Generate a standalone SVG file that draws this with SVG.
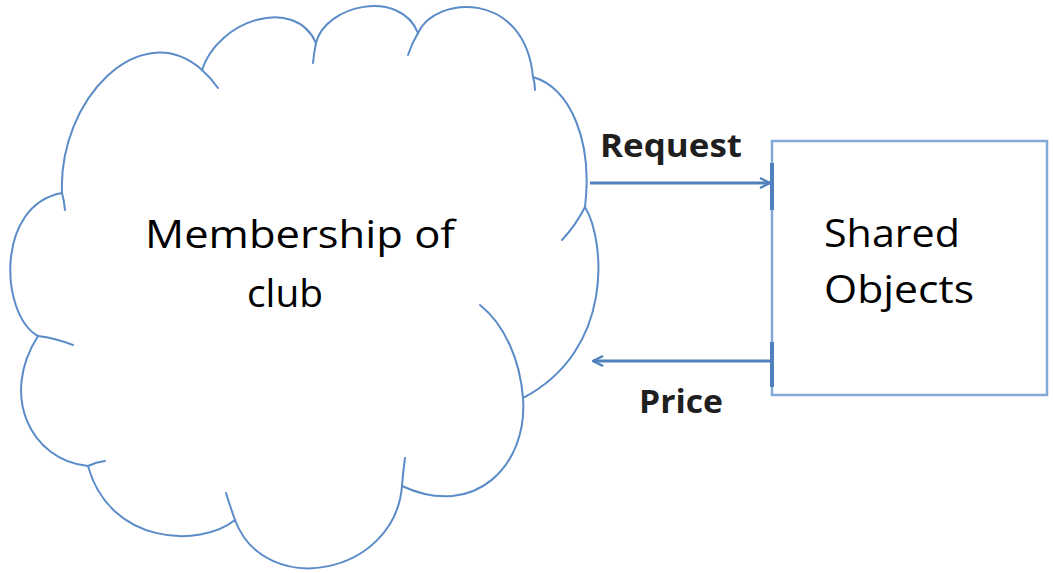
<svg xmlns="http://www.w3.org/2000/svg" width="1053" height="573" viewBox="0 0 1053 573">
  <style>
    .cloud { fill: none; stroke: #5b8cc8; stroke-width: 2; stroke-linecap: round; }
    .box { fill: #ffffff; stroke: #82a9d8; stroke-width: 2.5; }
    .conn { fill: none; stroke: #4f81bd; stroke-width: 3; }
    .tick { stroke: #4f81bd; stroke-width: 4; }
    .big { font-family: "Open Sans", "Liberation Sans", sans-serif; font-size: 39px; fill: #000000; }
    .lbl { font-family: "Open Sans", "Liberation Sans", sans-serif; font-size: 33px; font-weight: bold; fill: #1f1f1f; }
  </style>
  <defs>
    <marker id="arrow" viewBox="0 0 12 12" refX="11" refY="6" markerWidth="4" markerHeight="4" orient="auto" markerUnits="strokeWidth">
      <path d="M1,1 L11,6 L1,11" fill="none" stroke="#4f81bd" stroke-width="2.4" stroke-linejoin="miter"/>
    </marker>
  </defs>
  <rect width="1053" height="573" fill="#ffffff"/>

  <g id="cloud">
    <path class="cloud" d="M62,193 C58,100 140,15 202,70 C218,20 295,-5 316,43 C325,5 400,-12 418,33 C435,-5 525,-10 533,77 C570,88 593,140 585,207 C605,240 615,350 523,398 C528,465 475,520 402,486 C395,575 265,600 235,520 C200,548 110,545 88,466 C30,460 0,395 38,336 C0,315 -5,205 62,193 Z"/>
    <path class="cloud" d="M62,193 Q64,200 65,210"/>
    <path class="cloud" d="M202,70 Q211,78 218,88"/>
    <path class="cloud" d="M316,43 Q314,52 313,63"/>
    <path class="cloud" d="M418,33 Q412,43 408,55"/>
    <path class="cloud" d="M533,77 Q535,83 535,90"/>
    <path class="cloud" d="M585,207 Q576,225 562,240"/>
    <path class="cloud" d="M480,305 C505,325 520,360 523,398"/>
    <path class="cloud" d="M402,486 Q403,472 405,458"/>
    <path class="cloud" d="M235,520 Q230,506 226,493"/>
    <path class="cloud" d="M88,466 Q96,462 105,461"/>
    <path class="cloud" d="M38,336 Q55,338 73,345"/>
    <text class="big" x="145" y="248" textLength="310" lengthAdjust="spacingAndGlyphs">Membership of</text>
    <text class="big" x="247" y="307" textLength="76" lengthAdjust="spacingAndGlyphs">club</text>
  </g>

  <g id="shared-objects">
    <rect class="box" x="772" y="141" width="275" height="254"/>
    <text class="big" x="824" y="247" textLength="136" lengthAdjust="spacingAndGlyphs">Shared</text>
    <text class="big" x="824" y="303" textLength="150" lengthAdjust="spacingAndGlyphs">Objects</text>
  </g>

  <g id="connectors">
    <line class="conn" x1="590" y1="183" x2="770" y2="183" marker-end="url(#arrow)"/>
    <line class="tick" x1="772" y1="163" x2="772" y2="210"/>
    <text class="lbl" x="600" y="157" textLength="142" lengthAdjust="spacingAndGlyphs">Request</text>
    <line class="conn" x1="772" y1="361" x2="593" y2="361" marker-end="url(#arrow)"/>
    <line class="tick" x1="772" y1="342" x2="772" y2="387"/>
    <text class="lbl" x="639" y="413" textLength="84" lengthAdjust="spacingAndGlyphs">Price</text>
  </g>
</svg>
